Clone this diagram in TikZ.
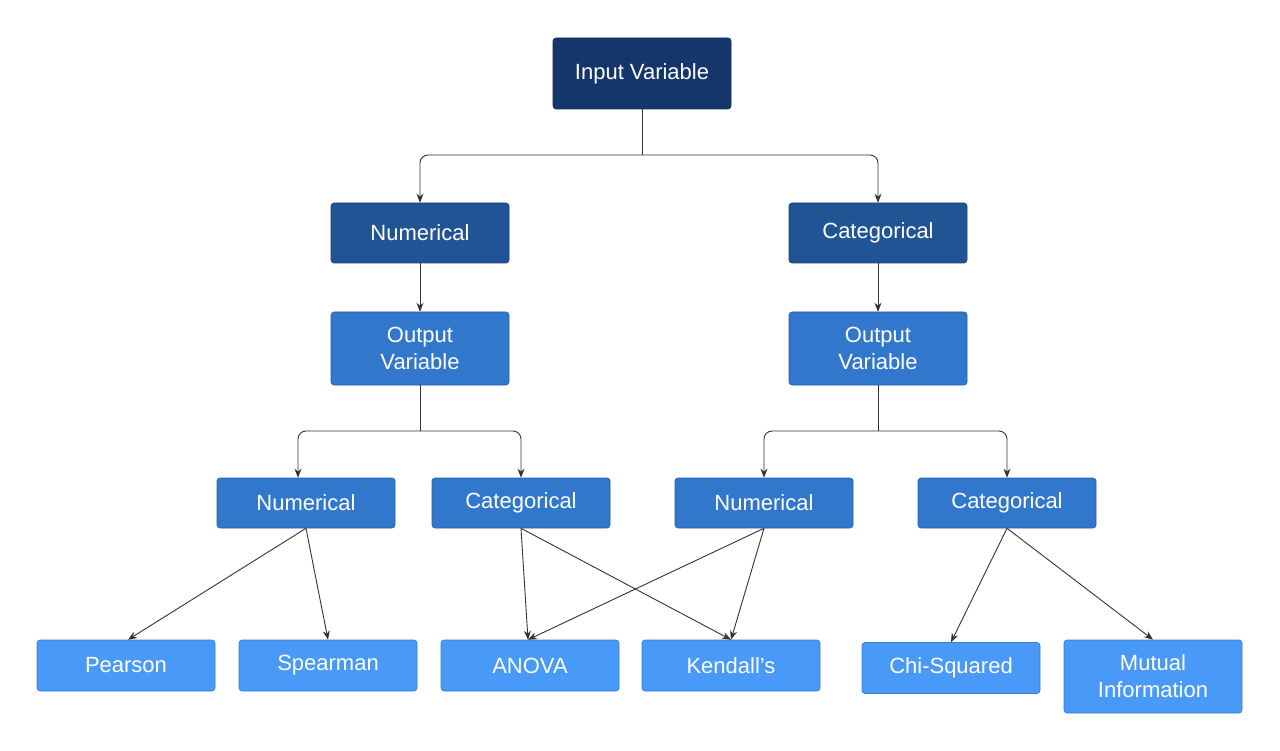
\documentclass[tikz,border=0pt]{standalone}
\usepackage{fontspec}
\setmainfont{Liberation Sans}
\usetikzlibrary{arrows.meta}
\definecolor{c0}{HTML}{14366B}
\definecolor{c1}{HTML}{215495}
\definecolor{c2}{HTML}{3178CC}
\definecolor{c3}{HTML}{4899F8}
\begin{document}
\begin{tikzpicture}[x=1pt,y=-1pt,
 box/.style={draw=#1!80!black,line width=0.6pt,fill=#1,rounded corners=3pt,text=white,font=\fontsize{22}{27}\selectfont,align=center,inner sep=0pt},
 ar/.style={draw=black!80,line width=0.9pt,-{Stealth[length=9pt,width=7pt]}},
 ln/.style={draw=black!80,line width=0.9pt,rounded corners=8pt}]
\useasboundingbox (0,0) rectangle (1280,751);
\fill[white] (0,0) rectangle (1280,751);
\newcommand\bx[7]{\node[box=#6,minimum width=#4pt,minimum height=#5pt] (#1) at (#2,#3) {#7};}
\bx{in}{642}{73.5}{178}{71}{c0}{Input Variable}
\bx{nl}{420}{233}{178}{60}{c1}{Numerical}
\bx{cl}{878}{233}{178}{60}{c1}{Categorical}
\bx{ol}{420}{348.5}{178}{73}{c2}{Output\\Variable}
\bx{or}{878}{348.5}{178}{73}{c2}{Output\\Variable}
\bx{n1}{306}{503}{178}{50}{c2}{Numerical}
\bx{c1}{521}{503}{178}{50}{c2}{Categorical}
\bx{n2}{764}{503}{178}{50}{c2}{Numerical}
\bx{c2}{1007}{503}{178}{50}{c2}{Categorical}
\bx{pe}{126}{665.5}{178}{51}{c3}{Pearson}
\bx{sp}{328}{665.5}{178}{51}{c3}{Spearman}
\bx{an}{530}{665.5}{178}{51}{c3}{ANOVA}
\bx{ke}{731}{665.5}{178}{51}{c3}{Kendall's}
\bx{ch}{951}{668}{178}{51}{c3}{Chi-Squared}
\bx{mi}{1153}{676.5}{178}{73}{c3}{Mutual\\Information}
\coordinate (j0) at (642,155);
\coordinate (j1) at (420,431);
\coordinate (j2) at (878,431);
\draw[ln] (in.south) -- (j0);
\draw[ar,rounded corners=8pt] (j0) -| (nl.north);
\draw[ar,rounded corners=8pt] (j0) -| (cl.north);
\draw[ar] (nl) -- (ol);
\draw[ar] (cl) -- (or);
\draw[ln] (ol.south) -- (j1);
\draw[ar,rounded corners=8pt] (j1) -| ([xshift=-8pt]n1.north);
\draw[ar,rounded corners=8pt] (j1) -| (c1.north);
\draw[ln] (or.south) -- (j2);
\draw[ar,rounded corners=8pt] (j2) -| (n2.north);
\draw[ar,rounded corners=8pt] (j2) -| (c2.north);
\draw[ar] (n1.south) -- ([xshift=2pt]pe.north);
\draw[ar] (n1.south) -- (sp.north);
\draw[ar] (c1.south) -- ([xshift=-2pt]an.north);
\draw[ar] (c1.south) -- (ke.north);
\draw[ar] (n2.south) -- ([xshift=-2pt]an.north);
\draw[ar] (n2.south) -- (ke.north);
\draw[ar] (c2.south) -- (ch.north);
\draw[ar] (c2.south) -- (mi.north);
\end{tikzpicture}
\end{document}
